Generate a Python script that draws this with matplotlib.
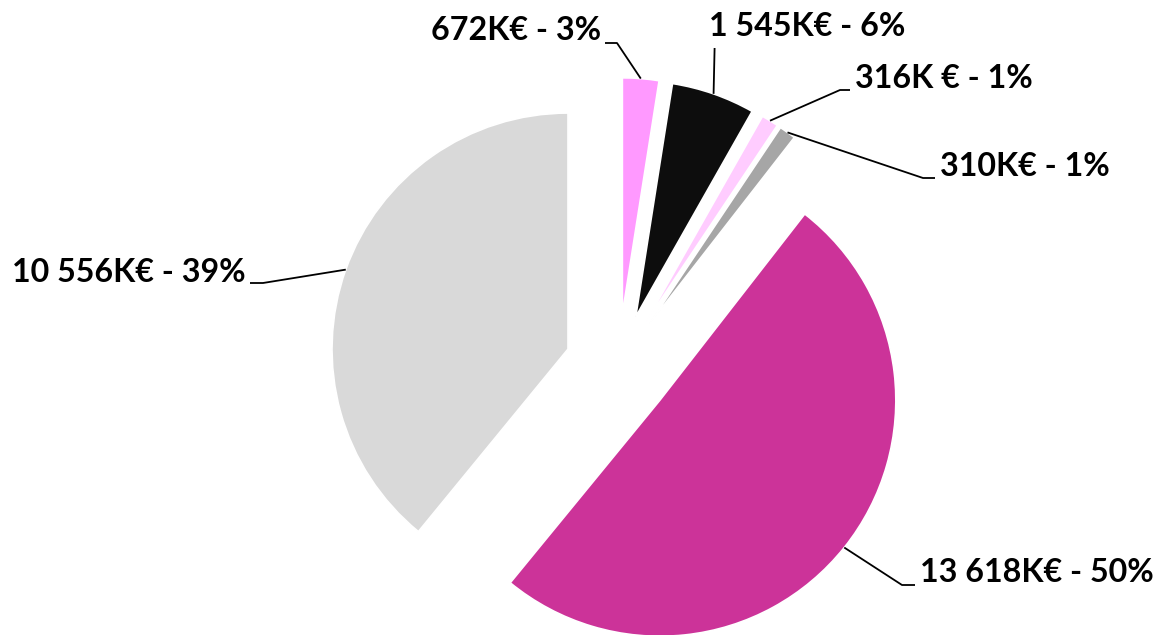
import matplotlib
matplotlib.use('Agg')
import matplotlib.pyplot as plt
import numpy as np

# ---- data ----
values = [672, 1545, 316, 310, 13618, 10556]
labels = ["672K€ - 3%", "1 545K€ - 6%", "316K € - 1%", "310K€ - 1%",
          "13 618K€ - 50%", "10 556K€ - 39%"]
colors = ["#FF99FF", "#0D0D0D", "#FFCCFF", "#A6A6A6", "#CC3399", "#D9D9D9"]

# ---- layout (pixel space, y up) ----
W, H = 1158, 635
cx, cy, R = 618.2, 268.0, 236.0
explode_dist = 53.3

# label anchor (x, y, ha) and leader elbow points (elbow, end)
label_pos = [(601, 604, 'right'), (807, 608, 'center'), (855, 556, 'left'),
             (940, 468, 'left'), (920, 62, 'left'), (246, 363, 'right')]
elbows = [[(617, 592), (605, 592)],
          [(714.6, 587)],
          [(840, 545), (850, 545)],
          [(923, 457), (935, 457)],
          [(902, 50), (915, 50)],
          [(263, 352), (250, 352)]]

plt.rcParams['font.family'] = ['Lato', 'DejaVu Sans']

fig = plt.figure(figsize=(W / 100, H / 100), dpi=100)
ax = fig.add_axes([0, 0, 1, 1])
wedges, _ = ax.pie(values, colors=colors, startangle=90, counterclock=False,
                   radius=R, center=(cx, cy), explode=[explode_dist] * len(values),
                   wedgeprops=dict(edgecolor='white', linewidth=1.2))
ax.set_xlim(0, W)
ax.set_ylim(0, H)
ax.set_aspect('equal')
ax.axis('off')

for w, lab, (tx, ty, ha), pts in zip(wedges, labels, label_pos, elbows):
    th = np.deg2rad((w.theta1 + w.theta2) / 2)
    x0 = w.center[0] + w.r * np.cos(th)
    y0 = w.center[1] + w.r * np.sin(th)
    xs = [x0] + [p[0] for p in pts]
    ys = [y0] + [p[1] for p in pts]
    ax.plot(xs, ys, color='black', lw=1.3, solid_capstyle='butt')
    ax.text(tx, ty, lab, ha=ha, va='center', fontsize=23.2, fontweight='bold',
            color='black')

fig.savefig('out.png', dpi=100, facecolor='white')
